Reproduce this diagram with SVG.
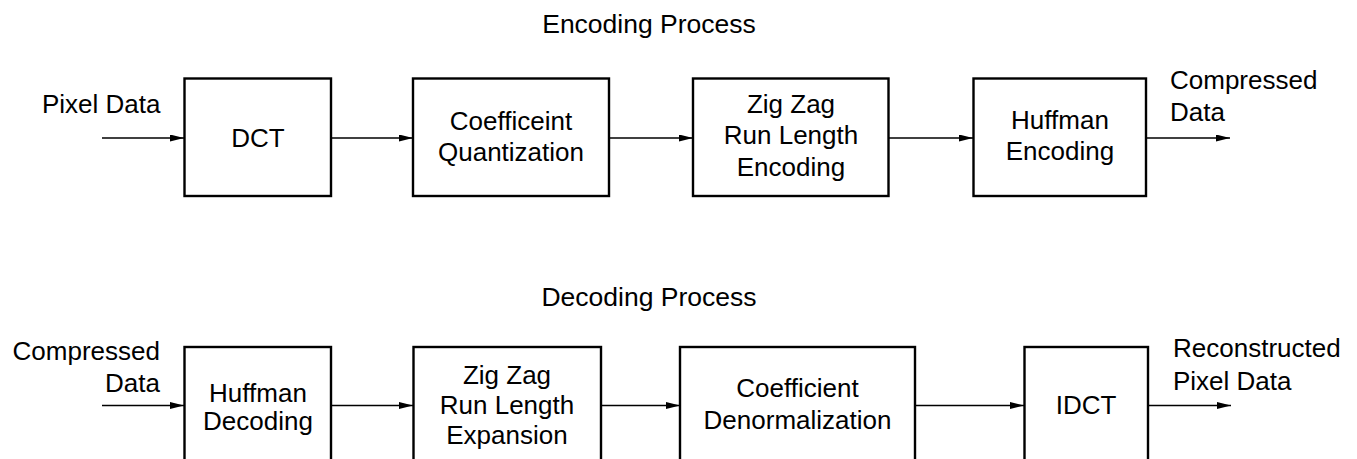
<svg xmlns="http://www.w3.org/2000/svg" width="1357" height="459" viewBox="0 0 1357 459">
  <style>
    .box { fill: #ffffff; stroke: #000000; stroke-width: 2.4; }
    .wire { fill: none; stroke: #000000; stroke-width: 1.4; }
    text { font-family: "Liberation Sans", Arial, Helvetica, sans-serif; font-size: 26px; fill: #000000; }
    .mid { text-anchor: middle; }
    .end { text-anchor: end; }
    .title { font-size: 26.5px; }
  </style>
  <defs>
    <marker id="arrow" markerUnits="userSpaceOnUse" markerWidth="15" markerHeight="8" refX="14" refY="3.5" orient="auto">
      <path d="M0,0 L14,3.5 L0,7 Z" fill="#000000"/>
    </marker>
  </defs>

  <rect width="1357" height="459" fill="#ffffff"/>

  <!-- Section titles -->
  <text class="title mid" x="649" y="33">Encoding Process</text>
  <text class="title mid" x="649" y="306">Decoding Process</text>

  <!-- Signal connectors -->
  <g id="connectors">
    <line class="wire" x1="102" y1="138" x2="184" y2="138" marker-end="url(#arrow)"/>
    <line class="wire" x1="331" y1="138" x2="413" y2="138" marker-end="url(#arrow)"/>
    <line class="wire" x1="609" y1="138" x2="693" y2="138" marker-end="url(#arrow)"/>
    <line class="wire" x1="889" y1="138" x2="973" y2="138" marker-end="url(#arrow)"/>
    <line class="wire" x1="1146" y1="138" x2="1230" y2="138" marker-end="url(#arrow)"/>

    <line class="wire" x1="102" y1="405.5" x2="184" y2="405.5" marker-end="url(#arrow)"/>
    <line class="wire" x1="331" y1="405.5" x2="413" y2="405.5" marker-end="url(#arrow)"/>
    <line class="wire" x1="601" y1="405.5" x2="680" y2="405.5" marker-end="url(#arrow)"/>
    <line class="wire" x1="915" y1="405.5" x2="1024" y2="405.5" marker-end="url(#arrow)"/>
    <line class="wire" x1="1148" y1="405.5" x2="1231" y2="405.5" marker-end="url(#arrow)"/>
  </g>

  <!-- Input / output labels -->
  <g id="enc-input">
    <text x="42" y="112.5">Pixel Data</text>
  </g>
  <g id="enc-output">
    <text x="1170" y="88.5">Compressed</text>
    <text x="1170" y="120.5">Data</text>
  </g>
  <g id="dec-input">
    <text class="end" x="160" y="360">Compressed</text>
    <text class="end" x="160" y="392">Data</text>
  </g>
  <g id="dec-output">
    <text x="1173" y="357">Reconstructed</text>
    <text x="1173" y="389.5">Pixel Data</text>
  </g>

  <!-- Encoding stages -->
  <g id="dct">
    <rect class="box" x="184.5" y="78.5" width="146.5" height="117.5"/>
    <text class="mid" x="258" y="146.5">DCT</text>
  </g>
  <g id="quantization">
    <rect class="box" x="413" y="78.5" width="196" height="117.5"/>
    <text class="mid" x="511" y="129.5">Coefficeint</text>
    <text class="mid" x="511" y="160.5">Quantization</text>
  </g>
  <g id="rle-encode">
    <rect class="box" x="693" y="78.5" width="195.5" height="117.5"/>
    <text class="mid" x="791" y="112.5">Zig Zag</text>
    <text class="mid" x="791" y="144">Run Length</text>
    <text class="mid" x="791" y="176">Encoding</text>
  </g>
  <g id="huffman-encode">
    <rect class="box" x="973.5" y="78.5" width="172.5" height="117.5"/>
    <text class="mid" x="1060" y="129">Huffman</text>
    <text class="mid" x="1060" y="160">Encoding</text>
  </g>

  <!-- Decoding stages -->
  <g id="huffman-decode">
    <rect class="box" x="184.5" y="347" width="146.5" height="130"/>
    <text class="mid" x="258" y="401.5">Huffman</text>
    <text class="mid" x="258" y="430">Decoding</text>
  </g>
  <g id="rle-expand">
    <rect class="box" x="413.5" y="347" width="187.5" height="130"/>
    <text class="mid" x="507" y="383.5">Zig Zag</text>
    <text class="mid" x="507" y="413.5">Run Length</text>
    <text class="mid" x="507" y="443.5">Expansion</text>
  </g>
  <g id="denormalization">
    <rect class="box" x="680" y="347" width="235" height="130"/>
    <text class="mid" x="797.5" y="396.5">Coefficient</text>
    <text class="mid" x="797.5" y="428.5">Denormalization</text>
  </g>
  <g id="idct">
    <rect class="box" x="1024.5" y="347" width="123.5" height="130"/>
    <text class="mid" x="1086" y="413.5">IDCT</text>
  </g>
</svg>
